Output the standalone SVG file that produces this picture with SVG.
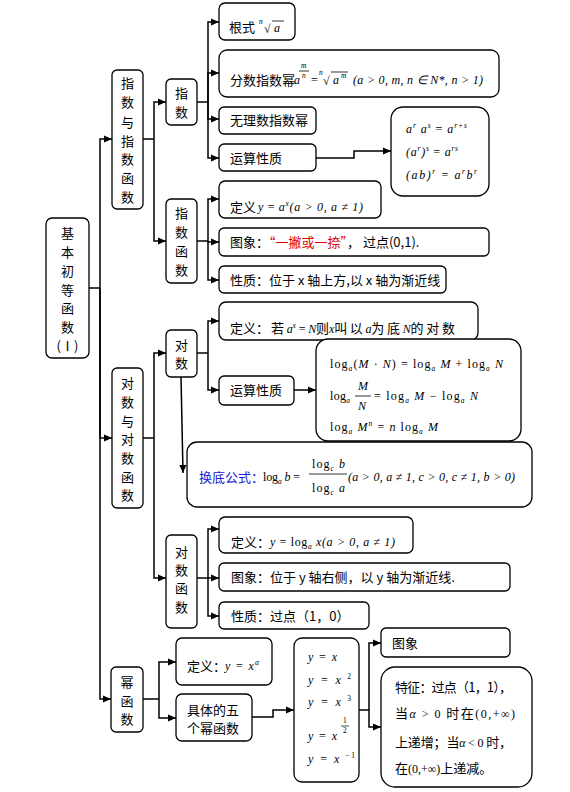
<svg xmlns="http://www.w3.org/2000/svg" width="570" height="792" viewBox="0 0 570 792">
<style>
.b{fill:#fff;stroke:#000;stroke-width:1.3}
.c{fill:none;stroke:#000;stroke-width:1.5}
.t{font-family:"Noto Sans CJK SC","Liberation Serif",sans-serif;font-size:13px;fill:#000}
.v{font-family:"Noto Sans CJK SC",sans-serif;font-size:13px;fill:#000;text-anchor:middle}
.m{font-family:"Liberation Serif",serif;font-style:italic;font-size:12px;fill:#000}
.r{font-family:"Liberation Serif",serif;font-size:12px;fill:#000}
.s{font-size:7.5px}
.red{fill:#e00000}
.blue{fill:#2020d0}
</style>
<defs>
<marker id="ar" viewBox="0 0 8 8" refX="8" refY="4" markerWidth="8" markerHeight="8" markerUnits="userSpaceOnUse" orient="auto"><path d="M0,0.5 L8,4 L0,7.5 z" fill="#000"/></marker>
</defs>

<g id="connectors">
<path class="c" d="M89,288 H100"/>
<path class="c" d="M100,288 V139 H112" marker-end="url(#ar)"/>
<path class="c" d="M100,288 V438 H112" marker-end="url(#ar)"/>
<path class="c" d="M100,288 V699 H111" marker-end="url(#ar)"/>
<path class="c" d="M143,139 H154"/>
<path class="c" d="M154,139 V102 H166" marker-end="url(#ar)"/>
<path class="c" d="M154,139 V241 H166" marker-end="url(#ar)"/>
<path class="c" d="M197,102 H208"/>
<path class="c" d="M208,102 V22 H219" marker-end="url(#ar)"/>
<path class="c" d="M208,102 V73 H219" marker-end="url(#ar)"/>
<path class="c" d="M208,102 V119 H219" marker-end="url(#ar)"/>
<path class="c" d="M208,102 V158 H219" marker-end="url(#ar)"/>
<path class="c" d="M316,158 H354 V151 H391" marker-end="url(#ar)"/>
<path class="c" d="M197,241 H208"/>
<path class="c" d="M208,241 V199 H219" marker-end="url(#ar)"/>
<path class="c" d="M208,241 V242 H219" marker-end="url(#ar)"/>
<path class="c" d="M208,241 V280 H219" marker-end="url(#ar)"/>
<path class="c" d="M143,438 H154"/>
<path class="c" d="M154,438 V353 H166" marker-end="url(#ar)"/>
<path class="c" d="M154,438 V578 H166" marker-end="url(#ar)"/>
<path class="c" d="M197,353 H208"/>
<path class="c" d="M208,353 V321 H219" marker-end="url(#ar)"/>
<path class="c" d="M208,353 V390 H219" marker-end="url(#ar)"/>
<path class="c" d="M294,390 H316" marker-end="url(#ar)"/>
<path class="c" d="M181,377 L183,473" marker-end="url(#ar)"/>
<path class="c" d="M197,578 H208"/>
<path class="c" d="M208,578 V529 H219" marker-end="url(#ar)"/>
<path class="c" d="M208,578 V578 H219" marker-end="url(#ar)"/>
<path class="c" d="M208,578 V616 H219" marker-end="url(#ar)"/>
<path class="c" d="M143,699 H159"/>
<path class="c" d="M159,699 V662 H176" marker-end="url(#ar)"/>
<path class="c" d="M159,699 V718 H176" marker-end="url(#ar)"/>
<path class="c" d="M252,717 H273 V710 H294" marker-end="url(#ar)"/>
<path class="c" d="M359,710 H369"/>
<path class="c" d="M369,710 V643 H381" marker-end="url(#ar)"/>
<path class="c" d="M369,710 V727 H381" marker-end="url(#ar)"/>
</g>

<g id="root">
<rect class="b" x="46" y="218" width="43" height="140" rx="6"/>
<text class="v" x="67.5" y="238">基</text>
<text class="v" x="67.5" y="257">本</text>
<text class="v" x="67.5" y="276">初</text>
<text class="v" x="67.5" y="295">等</text>
<text class="v" x="67.5" y="313">函</text>
<text class="v" x="67.5" y="332">数</text>
<text class="v" x="67.5" y="351">(Ⅰ)</text>
</g>

<g id="zhishu-group">
<rect class="b" x="112" y="70" width="31" height="139" rx="5"/>
<text class="v" x="127.5" y="88">指</text>
<text class="v" x="127.5" y="107">数</text>
<text class="v" x="127.5" y="127">与</text>
<text class="v" x="127.5" y="146">指</text>
<text class="v" x="127.5" y="164">数</text>
<text class="v" x="127.5" y="183">函</text>
<text class="v" x="127.5" y="202">数</text>
</g>

<g id="zhishu">
<rect class="b" x="166" y="79" width="31" height="46" rx="5"/>
<text class="v" x="181.5" y="98">指</text>
<text class="v" x="181.5" y="117">数</text>
</g>

<g id="genshi">
<rect class="b" x="219" y="3" width="76" height="37" rx="6"/>
<text class="t" x="229" y="32">根式</text>
<text class="m s" x="259" y="24">n</text>
<text class="r" x="264" y="33" font-size="13">√</text>
<line x1="272" y1="21" x2="284" y2="21" stroke="#000" stroke-width="0.8"/>
<text class="m" x="274" y="32">a</text>
</g>

<g id="fenshu">
<rect class="b" x="219" y="50" width="280" height="47" rx="8"/>
<text class="t" x="230" y="85" font-size="12">分数指数幂</text>
<text class="m" x="294" y="84">a</text>
<text class="m s" x="301" y="68">m</text>
<line x1="299" y1="71" x2="309" y2="71" stroke="#000" stroke-width="0.8"/>
<text class="m s" x="302" y="78">n</text>
<text class="r" x="311" y="84">=</text>
<text class="m s" x="319" y="75">n</text>
<text class="r" x="323" y="85" font-size="13">√</text>
<line x1="331" y1="72" x2="348" y2="72" stroke="#000" stroke-width="0.8"/>
<text class="m" x="333" y="84">a</text>
<text class="m s" x="341" y="78">m</text>
<text class="m" x="353" y="84" textLength="130" lengthAdjust="spacing">(a &gt; 0, m, n ∈ N*, n &gt; 1)</text>
</g>

<g id="wuli">
<rect class="b" x="219" y="107" width="97" height="27" rx="5"/>
<text class="t" x="230" y="125">无理数指数幂</text>
</g>

<g id="yunsuan1">
<rect class="b" x="219" y="144" width="97" height="27" rx="5"/>
<text class="t" x="230" y="163">运算性质</text>
</g>

<g id="yunsuan1-formulas">
<rect class="b" x="391" y="107" width="98" height="89" rx="12"/>
<text class="m" x="406" y="133" textLength="61" lengthAdjust="spacing">a<tspan class="s" dy="-5">r</tspan><tspan dy="5"> a</tspan><tspan class="s" dy="-5">s</tspan><tspan dy="5" font-style="normal"> = </tspan>a<tspan class="s" dy="-5">r+s</tspan></text>
<text class="m" x="406" y="156" textLength="52" lengthAdjust="spacing">(a<tspan class="s" dy="-5">r</tspan><tspan dy="5">)</tspan><tspan class="s" dy="-5">s</tspan><tspan dy="5" font-style="normal"> = </tspan>a<tspan class="s" dy="-5">rs</tspan></text>
<text class="m" x="406" y="179" textLength="71" lengthAdjust="spacing">(ab)<tspan class="s" dy="-5">r</tspan><tspan dy="5" font-style="normal"> = </tspan>a<tspan class="s" dy="-5">r</tspan><tspan dy="5">b</tspan><tspan class="s" dy="-5">r</tspan></text>
</g>

<g id="zhishuhanshu">
<rect class="b" x="166" y="199" width="31" height="84" rx="5"/>
<text class="v" x="181.5" y="218">指</text>
<text class="v" x="181.5" y="237">数</text>
<text class="v" x="181.5" y="256">函</text>
<text class="v" x="181.5" y="275">数</text>
</g>

<g id="zs-dingyi">
<rect class="b" x="219" y="181" width="162" height="37" rx="6"/>
<text class="t" x="230" y="212">定义</text>
<text class="m" x="258" y="211" textLength="105" lengthAdjust="spacing">y <tspan font-style="normal">=</tspan> a<tspan class="s" dy="-5">x</tspan><tspan dy="5">(a &gt; 0, a ≠ 1)</tspan></text>
</g>

<g id="zs-tuxiang">
<rect class="b" x="219" y="228" width="270" height="28" rx="5"/>
<text class="t" x="230" y="247">图象：<tspan class="red">“一撇或一捺”</tspan>，  过点(0,1).</text>
</g>

<g id="zs-xingzhi">
<rect class="b" x="219" y="266" width="227" height="27" rx="5"/>
<text class="t" x="230" y="285">性质：位于 x 轴上方,以 x 轴为渐近线</text>
</g>

<g id="duishu-group">
<rect class="b" x="112" y="368" width="31" height="140" rx="5"/>
<text class="v" x="127.5" y="388">对</text>
<text class="v" x="127.5" y="407">数</text>
<text class="v" x="127.5" y="426">与</text>
<text class="v" x="127.5" y="444">对</text>
<text class="v" x="127.5" y="463">数</text>
<text class="v" x="127.5" y="482">函</text>
<text class="v" x="127.5" y="500">数</text>
</g>

<g id="duishu">
<rect class="b" x="166" y="330" width="31" height="47" rx="5"/>
<text class="v" x="181.5" y="350">对</text>
<text class="v" x="181.5" y="368">数</text>
</g>

<g id="ds-dingyi">
<rect class="b" x="219" y="302" width="259" height="38" rx="7"/>
<text class="t" x="230" y="333">定义：</text>
<text class="t" x="271" y="333" font-size="12" textLength="184" lengthAdjust="spacing">若 <tspan class="m">a</tspan><tspan class="m s" dy="-5">x</tspan><tspan dy="5" class="r"> = </tspan><tspan class="m">N</tspan>则<tspan class="m">x</tspan>叫 以 <tspan class="m">a</tspan>为 底 <tspan class="m">N</tspan>的 对 数</text>
</g>

<g id="ds-yunsuan">
<rect class="b" x="219" y="376" width="75" height="29" rx="5"/>
<text class="t" x="230" y="395">运算性质</text>
</g>

<g id="ds-formulas">
<rect class="b" x="316" y="339" width="205" height="102" rx="12"/>
<text class="r" x="330" y="368" textLength="173" lengthAdjust="spacing">log<tspan class="m s" dy="3">a</tspan><tspan dy="-3">(</tspan><tspan font-style="italic">M</tspan> · <tspan font-style="italic">N</tspan>) = log<tspan class="m s" dy="3">a</tspan><tspan dy="-3" font-style="italic"> M</tspan> + log<tspan class="m s" dy="3">a</tspan><tspan dy="-3" font-style="italic"> N</tspan></text>
<text class="r" x="330" y="400" textLength="20" lengthAdjust="spacing">log<tspan class="m s" dy="3">a</tspan></text>
<text class="m" x="358" y="390">M</text>
<line x1="355" y1="396" x2="371" y2="396" stroke="#000" stroke-width="0.8"/>
<text class="m" x="358" y="410">N</text>
<text class="r" x="374" y="400" textLength="104" lengthAdjust="spacing">= log<tspan class="m s" dy="3">a</tspan><tspan dy="-3" font-style="italic"> M</tspan> − log<tspan class="m s" dy="3">a</tspan><tspan dy="-3" font-style="italic"> N</tspan></text>
<text class="r" x="330" y="431" textLength="108" lengthAdjust="spacing">log<tspan class="m s" dy="3">a</tspan><tspan dy="-3" font-style="italic"> M</tspan><tspan class="m s" dy="-5">n</tspan><tspan dy="5"> = </tspan><tspan font-style="italic">n</tspan> log<tspan class="m s" dy="3">a</tspan><tspan dy="-3" font-style="italic"> M</tspan></text>
</g>

<g id="huandi">
<rect class="b" x="187" y="442" width="345" height="65" rx="10"/>
<text class="t blue" x="199" y="482">换底公式：</text>
<text class="r" x="263" y="481" textLength="37" lengthAdjust="spacing">log<tspan class="m s" dy="3">a</tspan><tspan dy="-3" font-style="italic"> b</tspan> =</text>
<text class="r" x="312" y="468" textLength="33" lengthAdjust="spacing">log<tspan class="m s" dy="3">c</tspan><tspan dy="-3" font-style="italic"> b</tspan></text>
<line x1="309" y1="474" x2="347" y2="474" stroke="#000" stroke-width="0.8"/>
<text class="r" x="312" y="492" textLength="33" lengthAdjust="spacing">log<tspan class="m s" dy="3">c</tspan><tspan dy="-3" font-style="italic"> a</tspan></text>
<text class="m" x="348" y="481" textLength="167" lengthAdjust="spacing">(a &gt; 0, a ≠ 1, c &gt; 0, c ≠ 1, b &gt; 0)</text>
</g>

<g id="duishuhanshu">
<rect class="b" x="166" y="535" width="31" height="93" rx="5"/>
<text class="v" x="181.5" y="557">对</text>
<text class="v" x="181.5" y="575">数</text>
<text class="v" x="181.5" y="593">函</text>
<text class="v" x="181.5" y="612">数</text>
</g>

<g id="dsh-dingyi">
<rect class="b" x="219" y="517" width="194" height="36" rx="6"/>
<text class="t" x="231" y="547">定义：</text>
<text class="m" x="270" y="546" textLength="125" lengthAdjust="spacing">y <tspan font-style="normal">= log</tspan><tspan class="s" dy="3">a</tspan><tspan dy="-3"> x(a &gt; 0, a ≠ 1)</tspan></text>
</g>

<g id="dsh-tuxiang">
<rect class="b" x="219" y="563" width="291" height="28" rx="5"/>
<text class="t" x="231" y="582">图象：位于 y 轴右侧，以 y 轴为渐近线.</text>
</g>

<g id="dsh-xingzhi">
<rect class="b" x="219" y="602" width="150" height="27" rx="5"/>
<text class="t" x="231" y="621">性质：过点（1，0）</text>
</g>

<g id="mihanshu">
<rect class="b" x="111" y="667" width="32" height="65" rx="5"/>
<text class="v" x="127" y="687">幂</text>
<text class="v" x="127" y="706">函</text>
<text class="v" x="127" y="724">数</text>
</g>

<g id="mi-dingyi">
<rect class="b" x="176" y="638" width="96" height="47" rx="6"/>
<text class="t" x="187" y="671" font-size="12">定义：</text>
<text class="m" x="225" y="670" textLength="34" lengthAdjust="spacing">y <tspan font-style="normal">=</tspan> x<tspan class="s" dy="-5">α</tspan></text>
</g>

<g id="mi-five">
<rect class="b" x="176" y="694" width="76" height="47" rx="6"/>
<text class="t" x="187" y="715">具体的五</text>
<text class="t" x="187" y="733">个幂函数</text>
</g>

<g id="mi-list">
<rect class="b" x="294" y="638" width="65" height="144" rx="8"/>
<text class="m" x="308" y="661" textLength="29" lengthAdjust="spacing">y <tspan font-style="normal">=</tspan> x</text>
<text class="m" x="308" y="684" textLength="43" lengthAdjust="spacing">y <tspan font-style="normal">=</tspan> x<tspan class="s" font-style="normal" dy="-5"> 2</tspan></text>
<text class="m" x="308" y="706" textLength="43" lengthAdjust="spacing">y <tspan font-style="normal">=</tspan> x<tspan class="s" font-style="normal" dy="-5"> 3</tspan></text>
<text class="m" x="308" y="740" textLength="29" lengthAdjust="spacing">y <tspan font-style="normal">=</tspan> x</text>
<text class="r s" x="343" y="723">1</text>
<line x1="341" y1="726" x2="349" y2="726" stroke="#000" stroke-width="0.7"/>
<text class="r s" x="343" y="733">2</text>
<text class="m" x="308" y="763" textLength="47" lengthAdjust="spacing">y <tspan font-style="normal">=</tspan> x<tspan class="s" font-style="normal" dy="-5"> −1</tspan></text>
</g>

<g id="mi-tuxiang">
<rect class="b" x="381" y="628" width="129" height="29" rx="5"/>
<text class="t" x="392" y="648">图象</text>
</g>

<g id="mi-tezheng">
<rect class="b" x="381" y="667" width="151" height="120" rx="14"/>
<text class="t" x="395" y="692" textLength="117" lengthAdjust="spacing">特征：过点（1，1），</text>
<text class="t" x="395" y="718" textLength="120" lengthAdjust="spacing">当<tspan class="m">α</tspan> <tspan class="r">&gt; 0</tspan> 时在<tspan class="r" font-size="9.5">(0,+∞)</tspan></text>
<text class="t" x="395" y="747" textLength="117" lengthAdjust="spacing">上递增；当<tspan class="m">α</tspan> <tspan class="r">&lt; 0</tspan> 时，</text>
<text class="t" x="395" y="773">在<tspan class="r" font-size="9.5">(0,+∞)</tspan>上递减。</text>
</g>
</svg>
